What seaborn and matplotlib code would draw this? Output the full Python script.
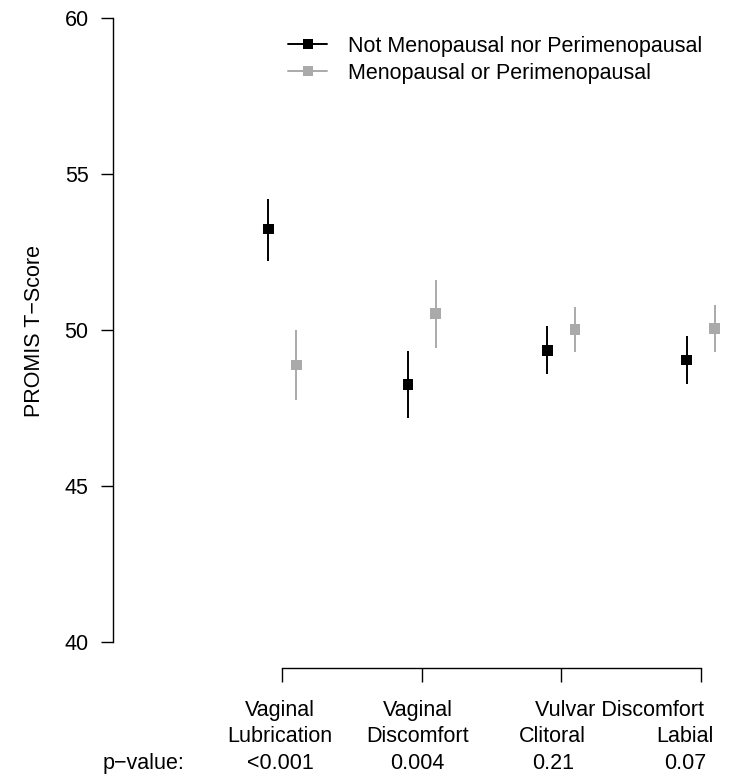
import numpy as np
import pandas as pd
import matplotlib
matplotlib.use('Agg')
import matplotlib.pyplot as plt
import matplotlib.transforms as mtransforms
from matplotlib.lines import Line2D
import seaborn as sns

# Dados
domains = ['Vaginal\nLubrication', 'Vaginal\nDiscomfort', 'Clitoral', 'Labial']
p_values = ['<0.001', '0.004', '0.21', '0.07']
groups = ['Not Menopausal nor Perimenopausal', 'Menopausal or Perimenopausal']

not_meno_mean = [53.24, 48.26, 49.35, 49.04]
not_meno_low = [52.21, 47.19, 48.58, 48.26]
not_meno_high = [54.20, 49.34, 50.13, 49.80]

meno_mean = [48.88, 50.52, 50.01, 50.04]
meno_low = [47.76, 49.41, 49.29, 49.29]
meno_high = [50.00, 51.60, 50.73, 50.80]

colors = ['#000000', '#AAAAAA']

# Montar tabela longa
rows = []
for g, (m, lo, hi) in enumerate([(not_meno_mean, not_meno_low, not_meno_high),
                                 (meno_mean, meno_low, meno_high)]):
    for i in range(len(domains)):
        rows.append({'pos': i + 1 + (-0.1 if g == 0 else 0.1),
                     'group': groups[g], 'mean': m[i], 'low': lo[i], 'high': hi[i]})
df = pd.DataFrame(rows)

sns.set_style('ticks')
plt.rcParams['font.family'] = ['Liberation Sans', 'DejaVu Sans']
plt.rcParams['font.size'] = 15.5
plt.rcParams['text.color'] = 'black'
plt.rcParams['ytick.color'] = 'black'
plt.rcParams['xtick.color'] = 'black'

fs = 15.5
fig = plt.figure(figsize=(7.35, 7.77), dpi=100)
W, H = 735, 777
ax = fig.add_axes([113 / W, 1 - 642 / H, 622 / W, (642 - 18) / H])

# Barras de erro
for g, grp in enumerate(groups):
    d = df[df['group'] == grp]
    ax.vlines(d['pos'], d['low'], d['high'], color=colors[g], lw=1.4, zorder=2)

sns.scatterplot(data=df, x='pos', y='mean', hue='group', palette=colors,
                marker='s', s=58, linewidth=0, legend=False, ax=ax, zorder=3)

ax.set_xlim(-0.214, 4.246)
ax.set_ylim(40, 60)
ax.set_yticks([40, 45, 50, 55, 60])
ax.set_xticks([1, 2, 3, 4])
ax.set_xticklabels([])
ax.set_xlabel('')
ax.set_ylabel('')
for s in ['top', 'right']:
    ax.spines[s].set_visible(False)
ax.spines['left'].set_bounds(40, 60)
ax.spines['bottom'].set_bounds(1, 4)
ax.spines['bottom'].set_position(('outward', 18.7))
ax.tick_params(axis='y', length=8.3, width=1, pad=9.3, labelsize=fs, color='black', labelcolor='black')
ax.tick_params(axis='x', length=10, width=1, color='black')
for s in ['left', 'bottom']:
    ax.spines[s].set_color('black')
    ax.spines[s].set_linewidth(1)

# Rótulos do eixo x
trans = mtransforms.blended_transform_factory(ax.transData, fig.transFigure)
label_x = [0.984, 1.97, 2.94, 3.89]
line1 = ['Vaginal', 'Vaginal', '', '']
line2 = ['Lubrication', 'Discomfort', 'Clitoral', 'Labial']
for i in range(4):
    if line1[i]:
        ax.text(label_x[i], 1 - 716 / H, line1[i], transform=trans, ha='center', va='baseline', fontsize=fs)
    ax.text(label_x[i], 1 - 742 / H, line2[i], transform=trans, ha='center', va='baseline', fontsize=fs)
    ax.text(label_x[i], 1 - 769 / H, p_values[i], transform=trans, ha='center', va='baseline', fontsize=fs)
ax.text((label_x[2] + label_x[3]) / 2, 1 - 716 / H, 'Vulvar Discomfort', transform=trans,
        ha='center', va='baseline', fontsize=fs)
fig.text(102.3 / W, 1 - 769 / H, 'p\u2212value:', ha='left', va='baseline', fontsize=fs)

fig.text(35 / W, 1 - 331 / H, 'PROMIS T\u2212Score', rotation=90, ha='center', va='center', fontsize=fs)

# Legenda
handles = [Line2D([0], [0], color=c, lw=1.4, marker='s', markersize=7.5, markeredgewidth=0)
           for c in colors]
fig.legend(handles, groups, loc='upper left', bbox_to_anchor=(288.3 / W, 1 - 36 / H),
           frameon=False, borderpad=0, borderaxespad=0, handlelength=1.8,
           handletextpad=0.95, labelspacing=0.28, fontsize=fs)

fig.savefig('out.png', dpi=100)
